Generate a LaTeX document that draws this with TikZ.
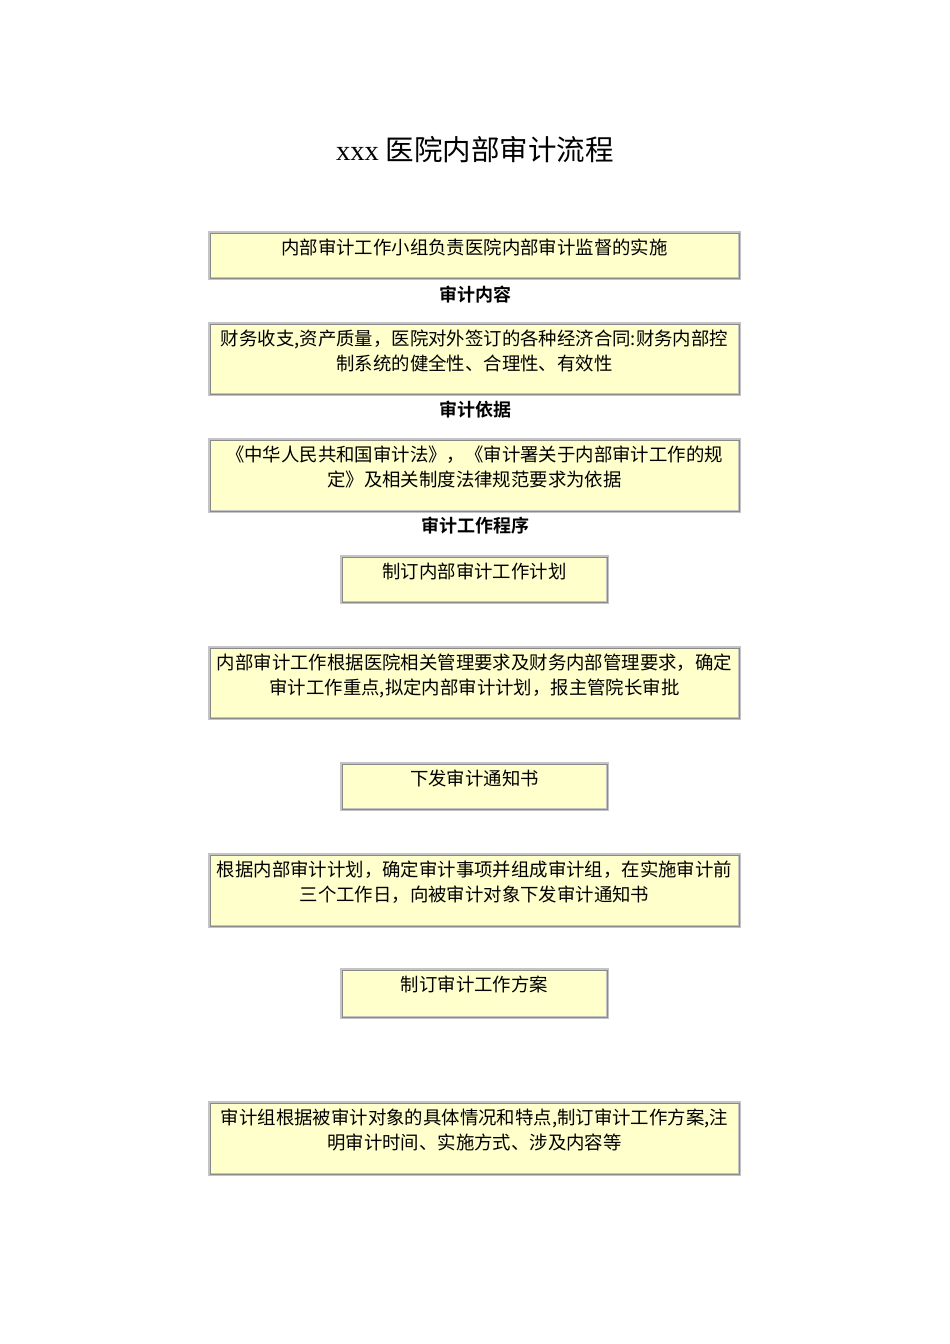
\documentclass[tikz,border=0pt]{standalone}
\usepackage{fontspec}
\setmainfont{Liberation Serif}
\newfontfamily\cjk{Noto Sans CJK SC}
\newfontfamily\cjkbf{Noto Sans CJK SC Bold}
\definecolor{boxfill}{HTML}{FFFFCC}
\definecolor{ridgelight}{HTML}{C4C4C4}
\definecolor{ridgedark}{HTML}{8A8A8A}
\tikzset{
  stepbox/.style={fill=boxfill, draw=ridgelight, line width=3pt, inner sep=0pt},
  widebox/.style={stepbox, minimum width=530pt},
  narrowbox/.style={stepbox, minimum width=266pt},
  innerline/.style={draw=ridgedark, line width=0.8pt},
  boxtext/.style={anchor=north, align=center, inner sep=0pt,
    font=\cjk\fontsize{18.4}{25}\selectfont},
  heading/.style={inner sep=0pt, font=\cjkbf\fontsize{18}{20}\selectfont}
}
\begin{document}
\begin{tikzpicture}[x=1pt, y=1pt]
  \useasboundingbox[fill=white] (0,0) rectangle (950,-1344);
  % title
  \node[inner sep=0pt, font=\fontsize{28.5}{30}\selectfont] (title) at (475,-150)
    {xxx {\cjk 医院内部审计流程}};
  % boxes
  \node[widebox, minimum height=46pt] (b1) at (474.5,-255.5) {};
  \node[widebox, minimum height=71pt] (b2) at (474.5,-359) {};
  \node[widebox, minimum height=72pt] (b3) at (474.5,-475.5) {};
  \node[narrowbox, minimum height=46pt] (b4) at (474.5,-579.5) {};
  \node[widebox, minimum height=71pt] (b5) at (474.5,-683) {};
  \node[narrowbox, minimum height=46pt] (b6) at (474.5,-786.5) {};
  \node[widebox, minimum height=72pt] (b7) at (474.5,-890.5) {};
  \node[narrowbox, minimum height=48pt] (b8) at (474.5,-993.5) {};
  \node[widebox, minimum height=72pt] (b9) at (474.5,-1138.5) {};
  \foreach \n in {1,...,9}
    \draw[innerline] ([shift={(2,-2)}]b\n.north west) rectangle ([shift={(-2,2)}]b\n.south east);
  % texts
  \node[boxtext] (t1) at ([yshift=-8]b1.north) {内部审计工作小组负责医院内部审计监督的实施};
  \node[boxtext] (t2) at ([yshift=-8]b2.north)
    {财务收支,资产质量，医院对外签订的各种经济合同:财务内部控\\制系统的健全性、合理性、有效性};
  \node[boxtext] (t3) at ([yshift=-8]b3.north)
    {《中华人民共和国审计法》，《审计署关于内部审计工作的规\\定》及相关制度法律规范要求为依据};
  \node[boxtext] (t4) at ([yshift=-8]b4.north) {制订内部审计工作计划};
  \node[boxtext] (t5) at ([yshift=-8]b5.north)
    {内部审计工作根据医院相关管理要求及财务内部管理要求，确定\\审计工作重点,拟定内部审计计划，报主管院长审批};
  \node[boxtext] (t6) at ([yshift=-8]b6.north) {下发审计通知书};
  \node[boxtext] (t7) at ([yshift=-8]b7.north)
    {根据内部审计计划，确定审计事项并组成审计组，在实施审计前\\三个工作日，向被审计对象下发审计通知书};
  \node[boxtext] (t8) at ([yshift=-8]b8.north) {制订审计工作方案};
  \node[boxtext] (t9) at ([yshift=-8]b9.north)
    {审计组根据被审计对象的具体情况和特点,制订审计工作方案,注\\明审计时间、实施方式、涉及内容等};
  % headings
  \node[heading] (h1) at (475,-295) {审计内容};
  \node[heading] (h2) at (475,-410) {审计依据};
  \node[heading] (h3) at (475,-526) {审计工作程序};
\end{tikzpicture}
\end{document}
